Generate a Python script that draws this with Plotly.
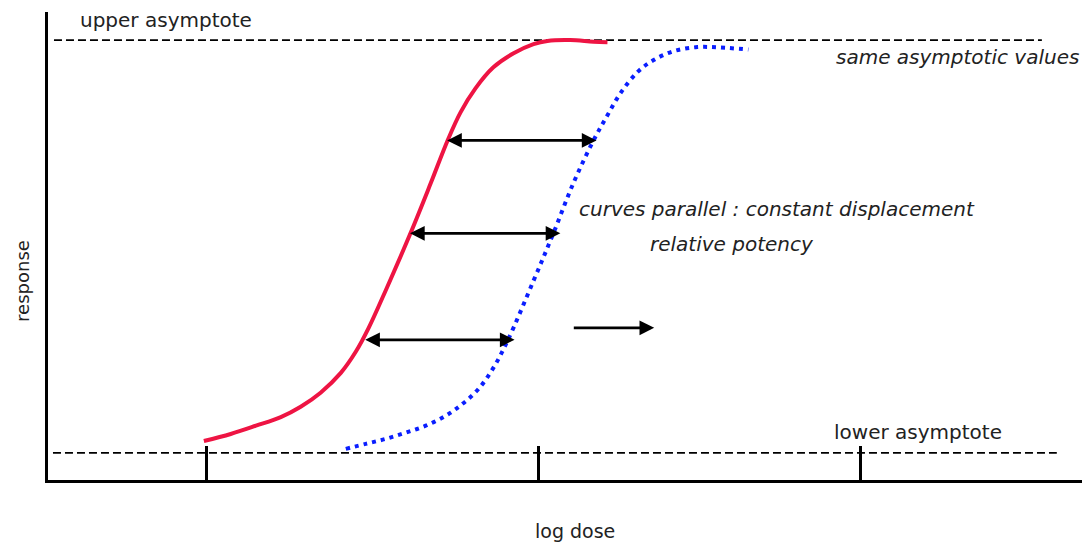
import plotly.graph_objects as go

# ---- data (log dose units, response % between asymptotes) ----
std_logdose = [0.991, 1.072, 1.148, 1.223, 1.283, 1.343, 1.404, 1.449, 1.488, 1.539,
               1.614, 1.675, 1.726, 1.765, 1.810, 1.864, 1.925, 1.985, 2.027, 2.096,
               2.166, 2.208]
std_response = [2.9, 4.6, 6.6, 8.7, 11.2, 14.6, 19.4, 24.5, 30.3, 39.3,
                53.2, 65.3, 75.7, 82.5, 88.3, 93.4, 96.8, 99.0, 99.8, 100.0,
                99.6, 99.5]

test_logdose = [1.419, 1.479, 1.539, 1.599, 1.660, 1.720, 1.771, 1.819, 1.864, 1.907,
                1.985, 2.045, 2.105, 2.166, 2.208, 2.247, 2.298, 2.346, 2.407, 2.479,
                2.548, 2.633]
test_response = [1.0, 2.2, 3.4, 4.9, 6.6, 9.0, 11.9, 15.5, 20.6, 27.2,
                 41.7, 53.2, 65.3, 75.7, 81.8, 87.1, 92.2, 95.1, 97.3, 98.3,
                 98.2, 97.7]

upper_asymptote = 100
lower_asymptote = 0
upper_line_x = [0.539, 3.518]
lower_line_x = [0.536, 3.563]

tick_positions = [1.0, 2.0, 2.97]

# displacement arrows: (left x, right x, response level)
displacement_left = [1.720, 1.608, 1.473]
displacement_right = [2.175, 2.066, 1.928]
displacement_level = [75.7, 53.2, 27.4]

shift_arrow_x = [2.102, 2.349]
shift_arrow_y = 30.3

X_RANGE = [0.521, 3.639]
Y_RANGE = [-6.55, 106.8]

FONT = "DejaVu Sans"
TXT = "#222222"

fig = go.Figure()

fig.add_trace(go.Scatter(x=std_logdose, y=std_response, mode="lines",
                         line=dict(color="#ee1443", width=4, shape="spline", smoothing=1.0),
                         hoverinfo="skip", showlegend=False, cliponaxis=False))
fig.add_trace(go.Scatter(x=test_logdose, y=test_response, mode="lines",
                         line=dict(color="#0a1eff", width=4, shape="spline", smoothing=1.0,
                                   dash="4px,5px"),
                         hoverinfo="skip", showlegend=False, cliponaxis=False))

# asymptote dashed lines
fig.add_shape(type="line", xref="x", yref="y", x0=upper_line_x[0], x1=upper_line_x[1],
              y0=upper_asymptote, y1=upper_asymptote,
              line=dict(color="black", width=1.8, dash="8px,4px"), layer="below")
fig.add_shape(type="line", xref="x", yref="y", x0=lower_line_x[0], x1=lower_line_x[1],
              y0=lower_asymptote, y1=lower_asymptote,
              line=dict(color="black", width=1.8, dash="8px,4px"), layer="below")

annotations = []
for xl, xr, yv in zip(displacement_left, displacement_right, displacement_level):
    annotations.append(dict(x=xr, y=yv, ax=xl, ay=yv, xref="x", yref="y", axref="x", ayref="y",
                            text="", showarrow=True, arrowhead=2, startarrowhead=2,
                            arrowside="end+start", arrowwidth=2.8, arrowsize=1.05,
                            startarrowsize=1.05, arrowcolor="black", standoff=0, startstandoff=0))
annotations.append(dict(x=shift_arrow_x[1], y=shift_arrow_y, ax=shift_arrow_x[0], ay=shift_arrow_y,
                        xref="x", yref="y", axref="x", ayref="y", text="", showarrow=True,
                        arrowhead=2, arrowwidth=2.8, arrowsize=1.05, arrowcolor="black", standoff=0))


def to_paper(x, y):
    return ((x - X_RANGE[0]) / (X_RANGE[1] - X_RANGE[0]),
            (y - Y_RANGE[0]) / (Y_RANGE[1] - Y_RANGE[0]))


def label(text, x, y, xanchor="left", italic=False, size=20, angle=0):
    t = f"<i>{text}</i>" if italic else text
    px, py = to_paper(x, y)
    return dict(x=px, y=py, xref="paper", yref="paper", text=t, showarrow=False, xanchor=xanchor,
                yanchor="middle", textangle=angle, font=dict(family=FONT, size=size, color=TXT))


annotations += [
    label("upper asymptote", 0.611, 104.9),
    label("same asymptotic values", 3.637, 95.9, xanchor="right", italic=True),
    label("curves parallel : constant displacement", 2.117, 59.2, italic=True),
    label("relative potency", 2.331, 50.5, italic=True),
    label("lower asymptote", 2.886, 5.1),
    label("log dose", 2.111, -18.9, xanchor="center", size=19),
    label("response", 0.446, 41.7, xanchor="center", size=18, angle=-90),
]

fig.update_layout(
    width=1082, height=543,
    margin=dict(l=48, r=0, t=12, b=63),
    paper_bgcolor="white", plot_bgcolor="white",
    annotations=annotations,
    xaxis=dict(range=X_RANGE, showline=True, linewidth=3, linecolor="black",
               ticks="inside", ticklen=34, tickwidth=3, tickcolor="black",
               tickvals=tick_positions, showticklabels=False,
               showgrid=False, zeroline=False, fixedrange=True),
    yaxis=dict(range=Y_RANGE, showline=True, linewidth=3, linecolor="black",
               ticks="", showticklabels=False, showgrid=False, zeroline=False, fixedrange=True),
    showlegend=False,
)

fig.write_html("out.html", config={"displayModeBar": False},
               post_script="document.body.style.margin='0';document.body.style.overflow='hidden';")
